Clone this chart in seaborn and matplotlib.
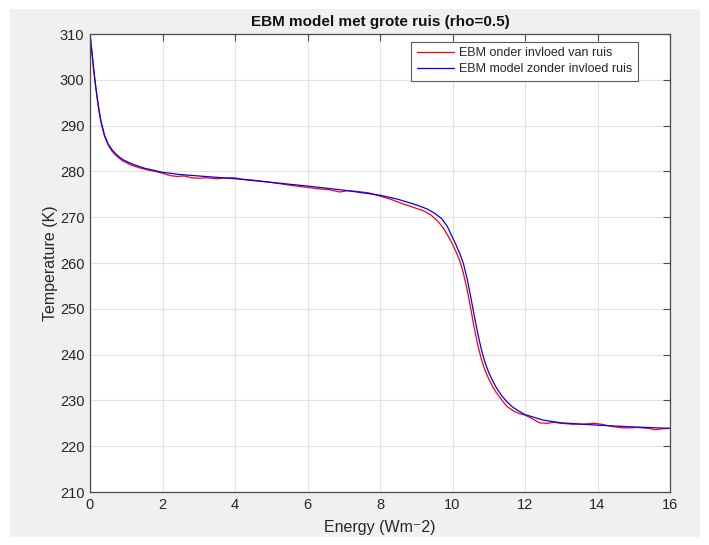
import numpy as np
import pandas as pd
import seaborn as sns
import matplotlib
matplotlib.use("Agg")
import matplotlib.pyplot as plt
from matplotlib.patches import Rectangle

# ---- data ----
x_blue = [0, 0.05, 0.1, 0.15, 0.2, 0.25, 0.3, 0.4, 0.5, 0.6, 0.7, 0.8, 0.9, 1.0, 1.2, 1.5,
          2.0, 2.5, 3.0, 4.0, 5.0, 6.0, 7.0, 8.0, 8.5, 9.0, 9.3, 9.5, 9.7, 9.85, 10.0, 10.1,
          10.2, 10.3, 10.4, 10.5, 10.6, 10.7, 10.8, 10.9, 11.0, 11.1, 11.2, 11.35, 11.5,
          11.65, 11.8, 12.0, 12.5, 13.0, 14.0, 15.0, 16.0]
t_blue = [310, 306.3, 302.4, 299.0, 296.0, 293.3, 291.0, 287.9, 286.0, 284.8, 283.9, 283.2,
          282.6, 282.2, 281.5, 280.7, 279.8, 279.3, 279.0, 278.4, 277.6, 276.8, 275.9, 274.8,
          273.9, 272.7, 271.8, 270.9, 269.7, 268.1, 265.6, 263.9, 262.1, 259.9, 256.7, 252.7,
          248.5, 244.5, 241.0, 238.2, 236.1, 234.4, 232.9, 231.1, 229.7, 228.6, 227.8, 226.9,
          225.7, 225.1, 224.6, 224.2, 223.9]

x_red = [0, 0.05, 0.1, 0.15, 0.2, 0.25, 0.3, 0.4, 0.5, 0.6, 0.7, 0.8, 0.9, 1.0, 1.1, 1.2,
         1.4, 1.6, 1.8, 2.0, 2.2, 2.4, 2.6, 2.8, 3.0, 3.2, 3.5, 3.8, 4.0, 4.2, 4.5, 5.0, 5.5,
         6.0, 6.3, 6.6, 6.9, 7.1, 7.4, 7.7, 8.0, 8.3, 8.6, 8.9, 9.2, 9.4, 9.6, 9.75, 9.9,
         10.0, 10.1, 10.2, 10.3, 10.4, 10.5, 10.6, 10.7, 10.8, 10.9, 11.0, 11.1, 11.2, 11.35,
         11.5, 11.7, 11.85, 12.0, 12.2, 12.4, 12.6, 12.8, 13.0, 13.3, 13.6, 13.9, 14.1, 14.4,
         14.7, 14.9, 15.1, 15.4, 15.6, 15.8, 16.0]
t_red = [310, 306.2, 302.3, 298.9, 295.9, 293.2, 290.9, 287.7, 285.8, 284.5, 283.6, 282.9,
         282.3, 281.9, 281.5, 281.2, 280.7, 280.3, 280.0, 279.6, 279.1, 278.9, 279.0, 278.6,
         278.5, 278.6, 278.4, 278.6, 278.6, 278.3, 278.1, 277.6, 277.0, 276.5, 276.2, 276.0,
         275.5, 275.8, 275.6, 275.3, 274.6, 273.9, 273.0, 272.2, 271.4, 270.5, 269.1, 267.6,
         265.6, 264.1, 262.4, 260.5, 257.8, 254.3, 250.2, 245.8, 242.0, 238.9, 236.5, 234.7,
         233.1, 231.8, 230.2, 228.7, 227.6, 227.1, 226.8, 226.0, 225.1, 225.0, 225.2, 225.0,
         224.8, 224.8, 225.0, 224.8, 224.3, 224.0, 224.0, 224.1, 223.9, 223.6, 223.8, 223.9]

label_red = "EBM onder invloed van ruis"
label_blue = "EBM model zonder invloed ruis"
title = "EBM model met grote ruis (rho=0.5)"
xlabel = "Energy (Wm\u207b2)"
ylabel = "Temperature (K)"
xticks = [0, 2, 4, 6, 8, 10, 12, 14, 16]
yticks = [210, 220, 230, 240, 250, 260, 270, 280, 290, 300, 310]

sns.set_theme(style="whitegrid")
plt.rcParams['font.family'] = ['Liberation Sans', 'DejaVu Sans']

fig = plt.figure(figsize=(7.09, 5.45), dpi=100, facecolor='white')
fig.patches.append(Rectangle((10/709, 1-537/545), (700-10)/709, (537-9)/545,
                             transform=fig.transFigure, facecolor='#f0f0f0',
                             edgecolor='none', zorder=-10))
ax = fig.add_axes([90/709, 1-492/545, 580/709, 458/545])
ax.set_facecolor('white')

df_red = pd.DataFrame({'x': x_red, 't': t_red})
df_blue = pd.DataFrame({'x': x_blue, 't': t_blue})
sns.lineplot(data=df_red, x='x', y='t', ax=ax, color='#ff0000', lw=0.9,
             sort=False, estimator=None, label=label_red)
sns.lineplot(data=df_blue, x='x', y='t', ax=ax, color='#0000ff', lw=0.9,
             sort=False, estimator=None, label=label_blue)

ax.set_xlim(0, 16)
ax.set_ylim(210, 310)
ax.set_xticks(xticks)
ax.set_yticks(yticks)
ax.grid(True, color='#e3e3e3', lw=0.8)
for s in ax.spines.values():
    s.set_visible(True)
    s.set_color('#4a4a4a')
    s.set_linewidth(0.9)
ax.tick_params(direction='in', length=5, width=0.8, color='#4a4a4a',
               top=True, right=True, labelsize=10.5, labelcolor='#262626', pad=4)
ax.set_xlabel(xlabel, fontsize=11.5, color='#262626', labelpad=6)
ax.set_ylabel(ylabel, fontsize=11.5, color='#262626', labelpad=1)
ax.set_title(title, fontsize=11, fontweight='bold', color='#111111', pad=6)

leg = ax.legend(loc='upper right', bbox_to_anchor=(0.945, 0.983), fontsize=9,
                frameon=True, fancybox=False, handlelength=3.0, borderpad=0.45,
                labelspacing=0.3, handletextpad=0.4, borderaxespad=0)
leg.get_frame().set_edgecolor('#5a5a5a')
leg.get_frame().set_linewidth(0.8)
leg.get_frame().set_alpha(1)

fig.savefig('out.png', dpi=100, facecolor='white')
